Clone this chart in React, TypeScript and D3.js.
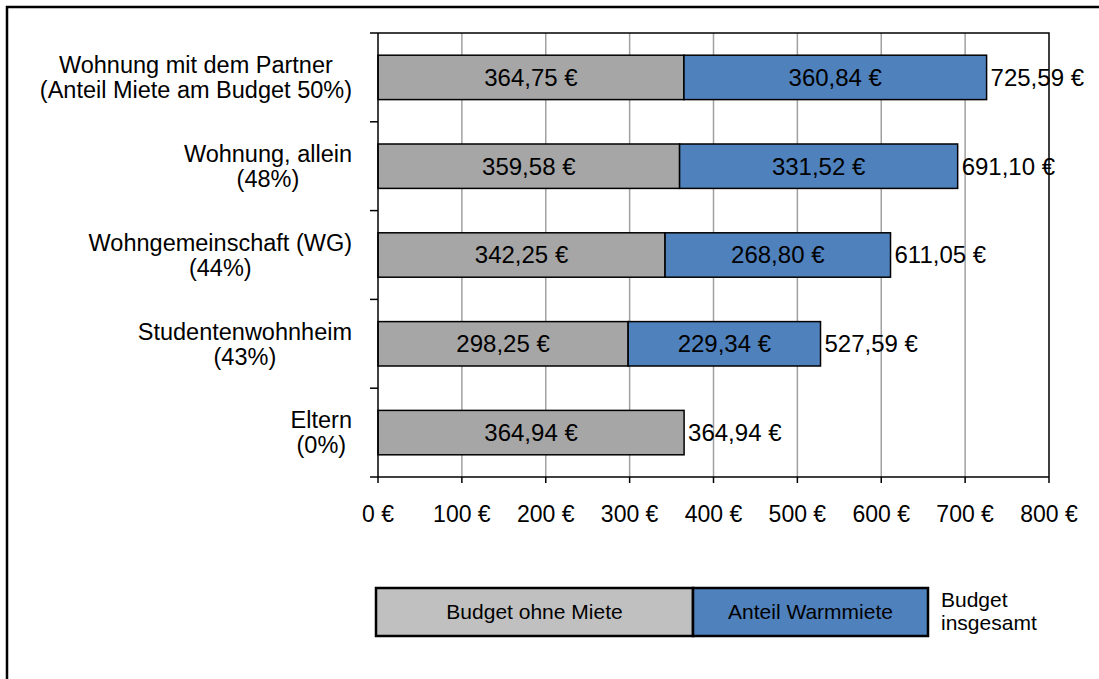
import { useRef, useEffect } from 'react';
import * as d3 from 'd3';

const categories = [
  ['Wohnung mit dem Partner', '(Anteil Miete am Budget 50%)'],
  ['Wohnung, allein', '(48%)'],
  ['Wohngemeinschaft (WG)', '(44%)'],
  ['Studentenwohnheim', '(43%)'],
  ['Eltern', '(0%)'],
];
const budgetOhneMiete = [364.75, 359.58, 342.25, 298.25, 364.94];
const warmmiete = [360.84, 331.52, 268.8, 229.34, 0];
const budgetGesamt = [725.59, 691.1, 611.05, 527.59, 364.94];
const xTicks = [0, 100, 200, 300, 400, 500, 600, 700, 800];
const legendLabels = ['Budget ohne Miete', 'Anteil Warmmiete'];
const legendTotalLabel = ['Budget', 'insgesamt'];

const WIDTH = 1099;
const HEIGHT = 679;
const FONT = "'Liberation Sans', Arial, sans-serif";
const GRAY = '#a6a6a6';
const LEGEND_GRAY = '#c0c0c0';
const BLUE = '#4f81bd';

const de = d3.formatLocale({ decimal: ',', thousands: '.', grouping: [3], currency: ['', ' €'] });
const fmtValue = (v: number) => `${de.format('.2f')(v)} €`;
const fmtTick = (v: number) => `${de.format('d')(v)} €`;

export default function App() {
  const svgRef = useRef<SVGSVGElement | null>(null);

  useEffect(() => {
    const svg = d3.select(svgRef.current);
    svg.selectAll('*').remove();

    const margin = { top: 33, right: WIDTH - 1049, bottom: HEIGHT - 477, left: 378 };

    const x = d3
      .scaleLinear()
      .domain([0, 800])
      .range([margin.left, WIDTH - margin.right]);

    const y = d3
      .scaleBand<number>()
      .domain(d3.range(categories.length))
      .range([margin.top, HEIGHT - margin.bottom])
      .paddingInner(0.5)
      .paddingOuter(0.25);

    // outer frame (runs off the picture on the right and bottom)
    svg
      .append('rect')
      .attr('x', 7)
      .attr('y', 7)
      .attr('width', WIDTH + 20)
      .attr('height', HEIGHT + 20)
      .attr('fill', 'none')
      .attr('stroke', '#000')
      .attr('stroke-width', 2.5);

    // vertical gridlines
    svg
      .append('g')
      .selectAll('line')
      .data(xTicks.slice(1, -1))
      .enter()
      .append('line')
      .attr('x1', (d) => x(d))
      .attr('x2', (d) => x(d))
      .attr('y1', margin.top)
      .attr('y2', HEIGHT - margin.bottom)
      .attr('stroke', '#a0a0a0')
      .attr('stroke-width', 1.5);

    // plot border top + right
    svg
      .append('path')
      .attr('d', `M${x(0)},${margin.top}H${x(800)}V${HEIGHT - margin.bottom}`)
      .attr('fill', 'none')
      .attr('stroke', '#000')
      .attr('stroke-width', 1.5);

    // bars
    const bars = svg.append('g');
    categories.forEach((_, i) => {
      const yy = y(i)!;
      const bh = y.bandwidth();
      const base = budgetOhneMiete[i];
      bars
        .append('rect')
        .attr('x', x(0))
        .attr('y', yy)
        .attr('width', x(base) - x(0))
        .attr('height', bh)
        .attr('fill', GRAY)
        .attr('stroke', '#000')
        .attr('stroke-width', 1.5);
      bars
        .append('text')
        .attr('x', (x(0) + x(base)) / 2)
        .attr('y', yy + bh / 2)
        .attr('dy', '0.35em')
        .attr('text-anchor', 'middle')
        .attr('font-family', FONT)
        .attr('font-size', 24)
        .attr('fill', '#000')
        .text(fmtValue(base));

      if (warmmiete[i] > 0) {
        const end = base + warmmiete[i];
        bars
          .append('rect')
          .attr('x', x(base))
          .attr('y', yy)
          .attr('width', x(end) - x(base))
          .attr('height', bh)
          .attr('fill', BLUE)
          .attr('stroke', '#000')
          .attr('stroke-width', 1.5);
        bars
          .append('text')
          .attr('x', (x(base) + x(end)) / 2)
          .attr('y', yy + bh / 2)
          .attr('dy', '0.35em')
          .attr('text-anchor', 'middle')
          .attr('font-family', FONT)
          .attr('font-size', 24)
          .attr('fill', '#000')
          .text(fmtValue(warmmiete[i]));
      }

      // total label
      bars
        .append('text')
        .attr('x', x(budgetGesamt[i]) + 4)
        .attr('y', yy + bh / 2)
        .attr('dy', '0.35em')
        .attr('font-family', FONT)
        .attr('font-size', 24)
        .attr('fill', '#000')
        .text(fmtValue(budgetGesamt[i]));
    });

    // left axis line + ticks at band boundaries
    const step = y.step();
    const boundaries = d3.range(categories.length + 1).map((k) => margin.top + k * step);
    svg
      .append('line')
      .attr('x1', x(0))
      .attr('x2', x(0))
      .attr('y1', margin.top)
      .attr('y2', HEIGHT - margin.bottom)
      .attr('stroke', '#000')
      .attr('stroke-width', 1.5);
    svg
      .append('g')
      .selectAll('line')
      .data(boundaries)
      .enter()
      .append('line')
      .attr('x1', x(0) - 8)
      .attr('x2', x(0))
      .attr('y1', (d) => d)
      .attr('y2', (d) => d)
      .attr('stroke', '#000')
      .attr('stroke-width', 1.5);

    // category labels: lines centred on each other, block right aligned
    categories.forEach((lines, i) => {
      const cy = y(i)! + y.bandwidth() / 2;
      const g = svg.append('g');
      const lh = 25;
      lines.forEach((line, k) => {
        g.append('text')
          .attr('x', 0)
          .attr('y', cy - ((lines.length - 1) * lh) / 2 + k * lh)
          .attr('dy', '0.35em')
          .attr('text-anchor', 'middle')
          .attr('font-family', FONT)
          .attr('font-size', 23.5)
          .attr('fill', '#000')
          .text(line);
      });
      const w = (g.node() as SVGGElement).getBBox().width;
      g.attr('transform', `translate(${352 - w / 2},0)`);
    });

    // bottom axis
    const yb = HEIGHT - margin.bottom;
    svg
      .append('line')
      .attr('x1', x(0))
      .attr('x2', x(800))
      .attr('y1', yb)
      .attr('y2', yb)
      .attr('stroke', '#000')
      .attr('stroke-width', 1.5);
    const xt = svg.append('g');
    xTicks.forEach((t) => {
      xt.append('line')
        .attr('x1', x(t))
        .attr('x2', x(t))
        .attr('y1', yb)
        .attr('y2', yb + 6)
        .attr('stroke', '#000')
        .attr('stroke-width', 1.5);
      xt.append('text')
        .attr('x', x(t))
        .attr('y', yb + 45)
        .attr('text-anchor', 'middle')
        .attr('font-family', FONT)
        .attr('font-size', 23)
        .attr('fill', '#000')
        .text(fmtTick(t));
    });

    // legend
    const lg = svg.append('g');
    const boxes = [
      { x0: 376, x1: 693, fill: LEGEND_GRAY, label: legendLabels[0] },
      { x0: 693, x1: 928, fill: BLUE, label: legendLabels[1] },
    ];
    const ly0 = 588;
    const ly1 = 636;
    boxes.forEach((b) => {
      lg.append('rect')
        .attr('x', b.x0)
        .attr('y', ly0)
        .attr('width', b.x1 - b.x0)
        .attr('height', ly1 - ly0)
        .attr('fill', b.fill)
        .attr('stroke', '#000')
        .attr('stroke-width', 2.5);
      lg.append('text')
        .attr('x', (b.x0 + b.x1) / 2)
        .attr('y', (ly0 + ly1) / 2)
        .attr('dy', '0.35em')
        .attr('text-anchor', 'middle')
        .attr('font-family', FONT)
        .attr('font-size', 21)
        .attr('fill', '#000')
        .text(b.label);
    });
    legendTotalLabel.forEach((line, k) => {
      lg.append('text')
        .attr('x', 941)
        .attr('y', 607 + k * 23)
        .attr('font-family', FONT)
        .attr('font-size', 21)
        .attr('fill', '#000')
        .text(line);
    });
  }, []);

  return (
    <div style={{ position: 'absolute', left: 0, top: 0, background: '#fff' }}>
      <svg ref={svgRef} width={WIDTH} height={HEIGHT} style={{ display: 'block' }} />
    </div>
  );
}
